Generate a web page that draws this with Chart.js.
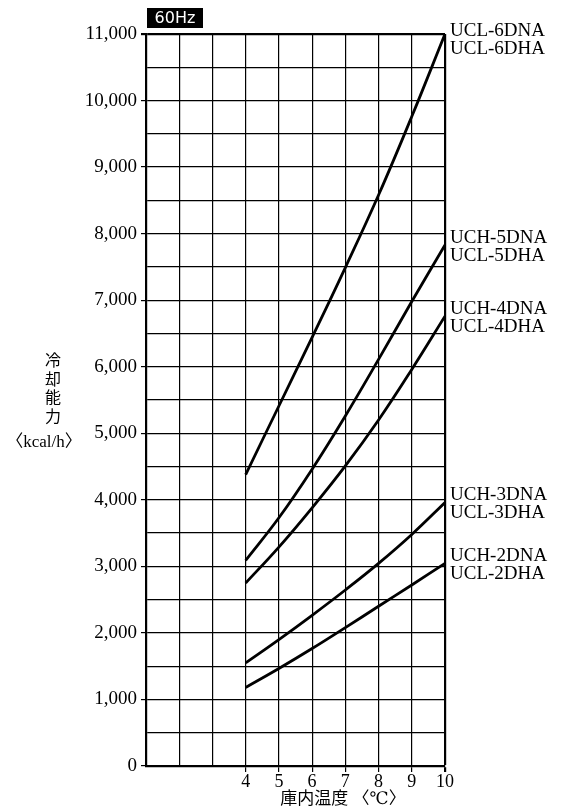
<!DOCTYPE html>
<html>
<head>
<meta charset="utf-8">
<script src="https://cdn.jsdelivr.net/npm/chart.js@4.4.1/dist/chart.umd.min.js"></script>
<style>
  html, body { margin: 0; padding: 0; background: #fff; }
  #wrap { position: relative; width: 561px; height: 812px; }
</style>
</head>
<body>
<div id="wrap"><canvas id="capChart"></canvas></div>
<script>
// room temperature (C) and cooling capacity (kcal/h)
var temps = [4, 5, 6, 7, 8, 9, 10];
var cap6 = [4380, 5410, 6440, 7490, 8580, 9760, 11000];
var cap5 = [3090, 3730, 4460, 5260, 6110, 6980, 7830];
var cap4 = [2750, 3290, 3880, 4510, 5200, 5960, 6760];
var cap3 = [1550, 1900, 2265, 2645, 3045, 3480, 3960];
var cap2 = [1180, 1465, 1765, 2080, 2400, 2720, 3045];

var models = [
    ["UCL-6DNA", "UCL-6DHA"],
    ["UCH-5DNA", "UCL-5DHA"],
    ["UCH-4DNA", "UCL-4DHA"],
    ["UCH-3DNA", "UCL-3DHA"],
    ["UCH-2DNA", "UCL-2DHA"]
];
var series = [cap6, cap5, cap4, cap3, cap2];

var xLabelFrom = 4;
var serif = "'Liberation Serif', 'DejaVu Serif'";
var cjk = "'Noto Sans CJK JP', 'Noto Sans CJK SC', sans-serif";

function toPoints(ys) {
    return temps.map(function (t, i) { return { x: t, y: ys[i] }; });
}

// extra text: 60Hz badge, model names, axis titles
var annotations = {
    id: 'annotations',
    afterDraw: function (chart) {
        var c = chart.ctx;
        var xs = chart.scales.x, ys = chart.scales.y;
        c.save();

        // 60Hz badge
        c.fillStyle = '#000';
        c.fillRect(147, 8, 56, 20);
        c.fillStyle = '#fff';
        c.font = "16px 'DejaVu Sans', sans-serif";
        c.textAlign = 'center';
        c.textBaseline = 'middle';
        c.fillText('60Hz', 175, 18.5);

        // model names at the right end of each curve
        c.fillStyle = '#000';
        c.font = '19px ' + serif + ', serif';
        c.textAlign = 'left';
        series.forEach(function (s, i) {
            var yEnd = ys.getPixelForValue(s[s.length - 1]);
            var mid = Math.max(yEnd + 2, 40);
            c.fillText(models[i][0], xs.right + 5, mid - 9);
            c.fillText(models[i][1], xs.right + 5, mid + 9);
        });

        // y axis title
        c.textAlign = 'center';
        c.font = '16px ' + cjk;
        ['冷', '却', '能', '力'].forEach(function (ch, i) {
            c.fillText(ch, 53, 360 + i * 18.5);
        });
        c.font = '17px ' + serif + ', ' + cjk;
        c.fillText('〈kcal/h〉', 44, 443);

        // x axis title
        c.font = '17px ' + serif + ', ' + cjk;
        c.fillText('庫内温度 〈℃〉', 343, 800);
        c.restore();
    }
};

var ctx = document.getElementById('capChart').getContext('2d');
var capChart = new Chart(ctx, {
    type: 'line',
    data: {
        datasets: series.map(function (s, i) {
            return {
                label: models[i].join(' / '),
                data: toPoints(s),
                borderColor: '#000',
                borderWidth: 2.8,
                pointRadius: 0,
                fill: false,
                tension: 0.4
            };
        })
    },
    options: {
        responsive: true,
        maintainAspectRatio: false,
        animation: false,
        layout: { padding: { left: 0, right: 116, top: 34, bottom: 0 } },
        plugins: {
            legend: { display: false },
            tooltip: { enabled: false }
        },
        scales: {
            x: {
                type: 'linear',
                min: 1,
                max: 10,
                afterFit: function (scale) { scale.height = 46; },
                ticks: {
                    stepSize: 1,
                    color: '#000',
                    padding: -1,
                    maxRotation: 0,
                    font: { family: serif, size: 18 },
                    callback: function (v) { return v >= xLabelFrom ? v : ''; }
                },
                grid: {
                    color: '#000',
                    lineWidth: function (c) { return c.tick && c.tick.value === 10 ? 2.2 : 1.2; },
                    tickLength: 6,
                    tickColor: function (c) { return c.tick && c.tick.value >= xLabelFrom ? '#000' : 'rgba(0,0,0,0)'; }
                },
                border: { color: '#000', width: 2.2 }
            },
            y: {
                min: 0,
                max: 11000,
                afterFit: function (scale) { scale.width = 146; },
                ticks: {
                    stepSize: 500,
                    color: '#000',
                    padding: 4,
                    font: { family: serif, size: 19 },
                    callback: function (v) {
                        return v % 1000 === 0 ? v.toLocaleString('en-US') : '';
                    }
                },
                grid: {
                    color: '#000',
                    lineWidth: function (c) { return c.tick && c.tick.value === 11000 ? 2.2 : 1.2; },
                    tickLength: 5,
                    tickColor: function (c) { return c.tick && c.tick.value % 1000 === 0 ? '#000' : 'rgba(0,0,0,0)'; }
                },
                border: { color: '#000', width: 2.2 }
            }
        }
    },
    plugins: [annotations]
});
</script>
</body>
</html>
